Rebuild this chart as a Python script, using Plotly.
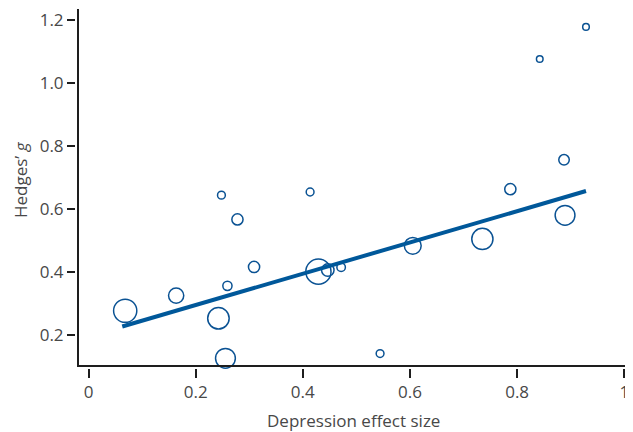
import plotly.graph_objects as go

# Study-level data
depression_es = [0.0685, 0.1636, 0.2425, 0.2556, 0.2481, 0.2593, 0.278, 0.309, 0.4136, 0.4291,
                 0.4466, 0.4715, 0.5442, 0.6052, 0.7351, 0.7873, 0.8422, 0.8875, 0.8894, 0.9285]
hedges_g = [0.277, 0.325, 0.253, 0.126, 0.644, 0.356, 0.567, 0.416, 0.654, 0.401,
            0.406, 0.415, 0.141, 0.483, 0.505, 0.663, 1.076, 0.756, 0.580, 1.178]
study_weight = [23.2, 15.2, 21.5, 19.8, 7.8, 9.2, 11.2, 11.2, 7.8, 25.2,
                12.5, 8.5, 7.8, 16.8, 21.2, 11.2, 6.6, 10.5, 19.8, 6.6]

# Meta-regression fit line
fit_x = [0.063, 0.9285]
fit_y = [0.227, 0.657]

x_ticks = [0, 0.2, 0.4, 0.6, 0.8, 1]
x_ticklabels = ["0", "0.2", "0.4", "0.6", "0.8", "1"]
y_ticks = [0.2, 0.4, 0.6, 0.8, 1.0, 1.2]
y_ticklabels = ["0.2", "0.4", "0.6", "0.8", "1.0", "1.2"]

blue_marker = "#0a5293"
blue_line = "#00589a"
axis_col = "#1e1e1e"
text_col = "#484848"
FONT = "Open Sans"
FS = 17

fig = go.Figure()
fig.add_trace(go.Scatter(
    x=depression_es, y=hedges_g, mode="markers",
    marker=dict(size=study_weight, sizemode="diameter", symbol="circle-open",
                color=blue_marker, opacity=1,
                line=dict(color=blue_marker, width=1.5)),
    hoverinfo="skip", showlegend=False, cliponaxis=False))
fig.add_trace(go.Scatter(
    x=fit_x, y=fit_y, mode="lines",
    line=dict(color=blue_line, width=4),
    hoverinfo="skip", showlegend=False))

# page body has an 8px margin, so the figure is 8px smaller than the window
W, H = 625, 424
ml, mr, mt, mb = 68, 0, 1, 64
pw, ph = W - ml - mr, H - mt - mb

fig.update_layout(
    width=W, height=H,
    margin=dict(l=ml, r=mr, t=mt, b=mb, autoexpand=False),
    paper_bgcolor="white", plot_bgcolor="white",
    font=dict(family=FONT, size=FS, color=text_col),
    xaxis=dict(range=[-0.02332, 1.01623], tickvals=x_ticks, ticktext=x_ticklabels,
               ticks="outside", ticklen=9, tickwidth=1.5, tickcolor=axis_col,
               tickfont=dict(family=FONT, size=FS, color=text_col), ticklabeloverflow="allow",
               showgrid=False, zeroline=False, showline=False, automargin=False),
    yaxis=dict(range=[0.0952, 1.2349], tickvals=y_ticks, ticktext=y_ticklabels,
               ticks="outside", ticklen=8, tickwidth=1.5, tickcolor=axis_col,
               tickfont=dict(family=FONT, size=FS, color=text_col), ticklabeloverflow="allow",
               showgrid=False, zeroline=False, showline=False, automargin=False),
    shapes=[
        dict(type="line", xref="paper", yref="paper", x0=2 / pw, x1=2 / pw, y0=2 / ph, y1=1,
             line=dict(color=axis_col, width=2)),
        dict(type="line", xref="paper", yref="paper", x0=1 / pw, x1=1, y0=2 / ph, y1=2 / ph,
             line=dict(color=axis_col, width=2)),
    ],
    annotations=[
        dict(text="Depression effect size", xref="paper", yref="paper",
             x=(345 - ml) / pw, y=-(412 - (H - mb)) / ph, xanchor="center", yanchor="middle",
             showarrow=False, font=dict(family=FONT, size=FS, color=text_col)),
        dict(text="Hedges’ <i>g</i>", xref="paper", yref="paper", textangle=-90,
             x=-(ml - 12) / pw, y=(H - mb - 172) / ph, xanchor="center", yanchor="middle",
             showarrow=False, font=dict(family=FONT, size=FS, color=text_col)),
    ],
)

fig.write_html("out.html")
